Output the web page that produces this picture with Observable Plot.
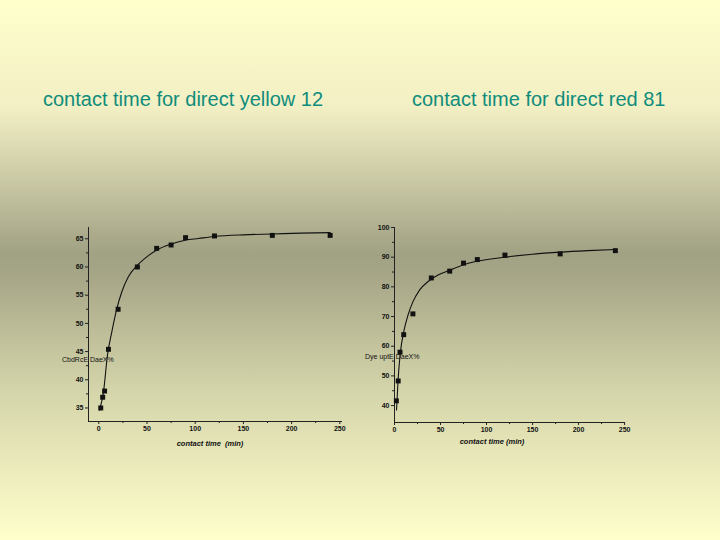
<!DOCTYPE html>
<html>
<head>
<meta charset="utf-8">
<script src="https://cdn.jsdelivr.net/npm/d3@7"></script>
<script src="https://cdn.jsdelivr.net/npm/@observablehq/plot@0.6"></script>
<style>
  html, body { margin: 0; padding: 0; }
  #page {
    position: relative; width: 720px; height: 540px; overflow: hidden;
    background: linear-gradient(to bottom, #ffffcc 0%, #f2efc4 20%, #a1a184 47%, #a4a486 50%, #d4d4aa 72%, #ffffcc 100%);
    font-family: "Liberation Sans", Arial, sans-serif;
  }
  .title { position: absolute; font-size: 20px; line-height: 20px; color: #108c7c; white-space: nowrap; }
  .xlab { position: absolute; font-size: 7.5px; font-style: italic; font-weight: bold; color: #111; white-space: nowrap; transform: translateX(-50%); }
  .ylab { position: absolute; font-size: 7px; line-height: 8px; color: #111; white-space: nowrap; }
  .chart { position: absolute; }
</style>
</head>
<body>
<div id="page">
  <div class="title" style="left:43px; top:89px;">contact time for direct yellow 12</div>
  <div class="title" style="left:412px; top:89px;">contact time for direct red 81</div>
  <div class="chart" id="c1" style="left:40px; top:210px;"></div>
  <div class="chart" id="c2" style="left:350px; top:210px;"></div>
  <div class="xlab" style="left:210px; top:439px;">contact time&nbsp; (min)</div>
  <div class="xlab" style="left:492px; top:437px;">contact time (min)</div>
  <div class="ylab" style="left:62px; top:356px;">CbdRcE DaeX%</div>
  <div class="ylab" style="left:365px; top:353px;">Dye uptE DaeX%</div>
</div>
<script>
// contact times (min)
const times = [2, 4, 6, 10, 20, 40, 60, 75, 90, 120, 180, 240];
// direct yellow 12 removal (%)
const yellowValues = [35.0, 36.9, 38.0, 45.4, 52.5, 60.0, 63.3, 63.9, 65.2, 65.5, 65.6, 65.6];
// direct red 81 removal (%)
const redValues = [41.6, 48.3, 58.0, 63.9, 70.9, 83.0, 85.3, 88.0, 89.2, 90.7, 91.1, 92.2];

// fitted curves
const yellowFitT = [0.7, 4.9, 9.0, 13.5, 18.7, 23.9, 30.8, 39.4, 49.8, 60.2, 74, 89.6, 103.4, 120, 150, 180, 210, 240];
const yellowFitV = [34.6, 37.9, 44.4, 48.5, 52.6, 55.6, 58.3, 60.2, 61.8, 63.0, 64.0, 64.75, 65.05, 65.4, 65.7, 65.85, 66.0, 66.1];
const redFitT = [2.2, 4.0, 6.5, 10.1, 14.8, 20.2, 27.4, 36.5, 47.3, 60, 74.4, 90.6, 117.6, 150, 180, 210, 240];
const redFitV = [38.5, 49.2, 58.2, 65.0, 70.6, 75.1, 79.0, 81.8, 84.0, 85.6, 87.4, 88.7, 89.9, 91.0, 91.7, 92.2, 92.6];

const xTicks = [0, 50, 100, 150, 200, 250];
const xMinor = [25, 75, 125, 175, 225];
const yellowYTicks = [35, 40, 45, 50, 55, 60, 65];
const yellowYMinor = [37.5, 42.5, 47.5, 52.5, 57.5, 62.5];
const redYTicks = [40, 50, 60, 70, 80, 90, 100];
const redYMinor = [45, 55, 65, 75, 85, 95];

function makeChart({width, height, margins, xDomain, yDomain, yTicks, yMinor, values, fitT, fitV}) {
  const pts = times.map((t, i) => ({t, v: values[i]}));
  const fit = fitT.map((t, i) => ({t, v: fitV[i]}));
  return Plot.plot({
    width, height,
    marginLeft: margins[3], marginRight: margins[1], marginTop: margins[0], marginBottom: margins[2],
    x: {domain: xDomain},
    y: {domain: yDomain},
    style: {background: "transparent", fontFamily: "Liberation Sans, Arial, sans-serif", fontSize: "7px", fontWeight: "bold", color: "#111"},
    marks: [
      Plot.ruleY([yDomain[0]], {stroke: "#222", strokeWidth: 1}),
      Plot.ruleX([xDomain[0]], {stroke: "#222", strokeWidth: 1}),
      Plot.axisX(xTicks, {tickSize: 3, tickPadding: 2, label: null, stroke: "#222"}),
      Plot.axisX(xMinor, {tickSize: 2, tickFormat: () => "", label: null, stroke: "#222"}),
      Plot.axisY(yTicks, {tickSize: 3, tickPadding: 2, label: null, stroke: "#222"}),
      Plot.axisY(yMinor, {tickSize: 2, tickFormat: () => "", label: null, stroke: "#222"}),
      Plot.line(fit, {x: "t", y: "v", curve: "monotone-x", stroke: "#111", strokeWidth: 1.1}),
      Plot.dot(pts, {x: "t", y: "v", symbol: "square", r: 2.8, fill: "#111", stroke: "none"})
    ]
  });
}

document.getElementById("c1").append(makeChart({
  width: 320, height: 250, margins: [17, 18, 39, 48],
  xDomain: [-10.7, 252.8], yDomain: [32.6, 67],
  yTicks: yellowYTicks, yMinor: yellowYMinor,
  values: yellowValues, fitT: yellowFitT, fitV: yellowFitV
}));
document.getElementById("c2").append(makeChart({
  width: 300, height: 250, margins: [17, 25, 38, 44],
  xDomain: [0, 251], yDomain: [34.3, 100],
  yTicks: redYTicks, yMinor: redYMinor,
  values: redValues, fitT: redFitT, fitV: redFitV
}));
</script>
</body>
</html>
